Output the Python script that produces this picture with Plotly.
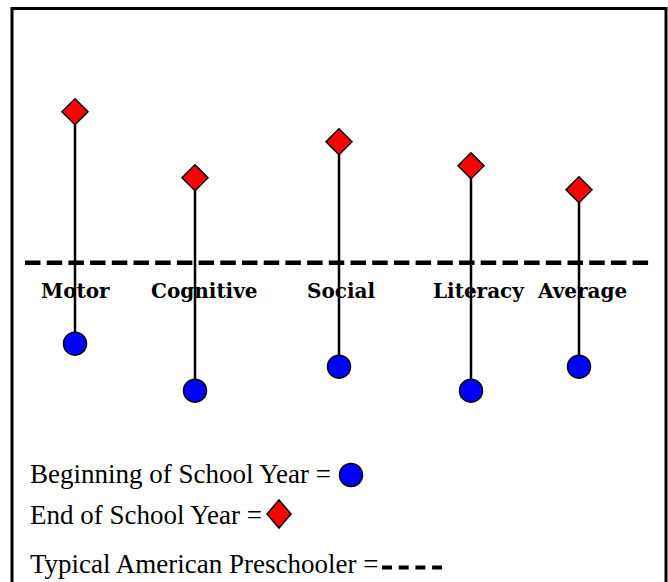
import plotly.graph_objects as go

# ---- data ----
categories = ["Motor", "Cognitive", "Social", "Literacy", "Average"]
beginning_of_year = [91.9, 87.2, 89.6, 87.2, 89.6]
end_of_year = [115.1, 108.5, 112.1, 109.7, 107.3]
typical_preschooler = 100.0

legend_labels = [
    "Beginning of School Year =",
    "End of School Year =",
    "Typical American Preschooler =",
]

# ---- layout / style ----
W, H = 668, 582
category_x = [75, 195, 339, 471, 579]          # horizontal slot of each category
label_xshift = [0, 9, 2, 8, 3]                  # small offsets of the bold labels
y_top, y_bottom = 126.27, 68.07                 # value range shown top to bottom


def px(x):
    return x / W


def py(y):
    return 1 - y / H


fig = go.Figure()

# stems
sx, sy = [], []
for x, b, e in zip(category_x, beginning_of_year, end_of_year):
    sx += [x, x, None]
    sy += [b, e, None]
fig.add_trace(go.Scatter(x=sx, y=sy, mode="lines",
                         line=dict(color="black", width=2.5),
                         hoverinfo="skip", showlegend=False))

fig.add_trace(go.Scatter(x=category_x, y=beginning_of_year, mode="markers",
                         name="Beginning of School Year",
                         text=categories, showlegend=False,
                         marker=dict(symbol="circle", size=23, color="#0000FF",
                                     line=dict(color="black", width=1.5))))
fig.add_trace(go.Scatter(x=category_x, y=end_of_year, mode="markers",
                         name="End of School Year",
                         text=categories, showlegend=False,
                         marker=dict(symbol="diamond", size=20, color="#FF0000",
                                     line=dict(color="black", width=1.5))))

shapes = []
# typical preschooler dashed line
shapes.append(dict(type="line", xref="paper", yref="y",
                   x0=px(25), x1=px(650), y0=typical_preschooler, y1=typical_preschooler,
                   line=dict(color="black", width=4.5, dash="15.5px,6.2px"),
                   layer="below"))
# border
shapes.append(dict(type="path", xref="paper", yref="paper",
                   path=f"M {px(12)},{py(590)} L {px(12)},{py(8.5)} L {px(666)},{py(8.5)} L {px(666)},{py(590)}",
                   line=dict(color="black", width=3)))
# legend keys
cx, cy, r = 351, 475, 11.5
shapes.append(dict(type="circle", xref="paper", yref="paper",
                   x0=px(cx - r), x1=px(cx + r), y0=py(cy - r), y1=py(cy + r),
                   fillcolor="#0000FF", line=dict(color="black", width=1.5)))
dx, dy, hw, hh = 279, 514, 12, 14
shapes.append(dict(type="path", xref="paper", yref="paper",
                   path=(f"M {px(dx)},{py(dy - hh)} L {px(dx + hw)},{py(dy)} "
                         f"L {px(dx)},{py(dy + hh)} L {px(dx - hw)},{py(dy)} Z"),
                   fillcolor="#FF0000", line=dict(color="black", width=1.5)))
shapes.append(dict(type="line", xref="paper", yref="paper",
                   x0=px(382), x1=px(442), y0=py(567.5), y1=py(567.5),
                   line=dict(color="black", width=4, dash="10px,6.7px")))

annotations = []
for cat, x, sh in zip(categories, category_x, label_xshift):
    annotations.append(dict(text=cat, x=px(x), y=0.5, xref="paper", yref="paper",
                            xanchor="center", yanchor="middle", xshift=sh,
                            showarrow=False,
                            font=dict(family="DejaVu Serif", size=20, color="black",
                                      weight="bold")))
for txt, ymid in zip(legend_labels, [474.0, 515.0, 564.0]):
    annotations.append(dict(text=txt, x=px(28), y=py(ymid), xref="paper", yref="paper",
                            xanchor="left", yanchor="middle", showarrow=False,
                            font=dict(family="Liberation Serif", size=27, color="black")))

fig.update_layout(
    width=W, height=H,
    margin=dict(l=0, r=0, t=0, b=0, pad=0),
    paper_bgcolor="white", plot_bgcolor="white",
    xaxis=dict(range=[0, W], visible=False, fixedrange=True),
    yaxis=dict(range=[y_bottom, y_top], visible=False, fixedrange=True),
    shapes=shapes, annotations=annotations,
    showlegend=False,
)

fig.write_html("out.html", config={"displayModeBar": False},
               post_script="document.body.style.margin='0';")
